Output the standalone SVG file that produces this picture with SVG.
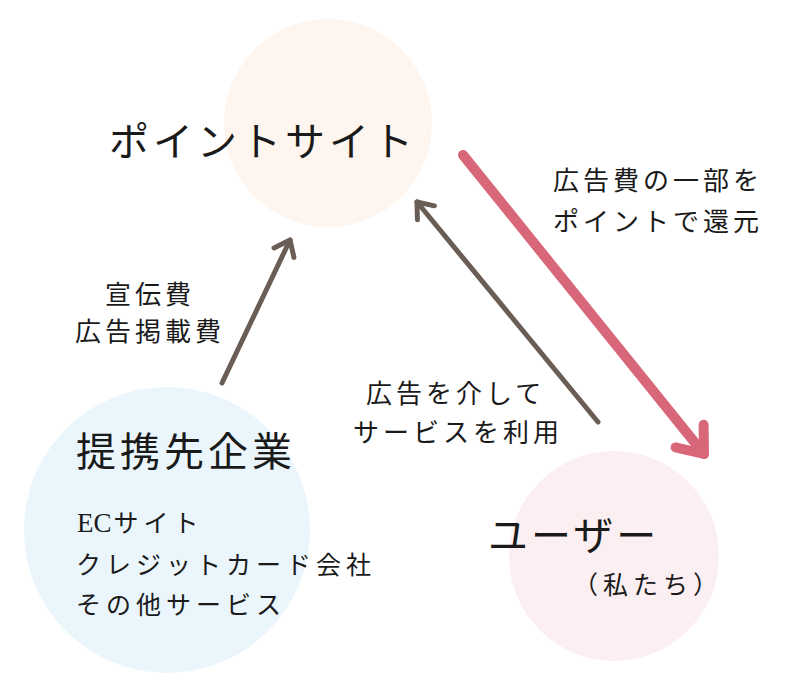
<svg xmlns="http://www.w3.org/2000/svg" width="800" height="696" viewBox="0 0 800 696">
  <style>
    text { font-family: "Liberation Serif", "Noto Sans CJK JP", serif; fill: #1a1a1a; }
    .big { font-size: 40px; letter-spacing: 4px; }
    .mid { font-size: 25px; letter-spacing: 5px; }
    .lbl { font-size: 26px; letter-spacing: 4px; }
    .brown { stroke: #6a5d55; stroke-width: 5; fill: none; stroke-linecap: round; stroke-linejoin: round; }
    .pink { stroke: #d8677a; stroke-width: 10; fill: none; stroke-linecap: round; stroke-linejoin: round; }
  </style>
  <defs>
    <marker id="headBrown" markerUnits="userSpaceOnUse" viewBox="-30 -20 40 40" markerWidth="40" markerHeight="40" refX="0" refY="0" orient="auto" overflow="visible">
      <path d="M-14,-11 L0,0 L-14,11" stroke="#6a5d55" stroke-width="5" fill="none" stroke-linecap="round" stroke-linejoin="round"/>
    </marker>
    <marker id="headPink" markerUnits="userSpaceOnUse" viewBox="-40 -30 60 60" markerWidth="60" markerHeight="60" refX="0" refY="0" orient="auto" overflow="visible">
      <path d="M-23,-18 L0,0 L-23,18" stroke="#d8677a" stroke-width="10" fill="none" stroke-linecap="round" stroke-linejoin="round"/>
    </marker>
  </defs>
  <rect width="800" height="696" fill="#ffffff"/>

  <g id="point-site">
    <circle cx="328" cy="123" r="104" fill="#fdf5ee"/>
    <text class="big" x="109" y="156">ポイントサイト</text>
  </g>

  <g id="partner">
    <circle cx="167" cy="530" r="143" fill="#eaf6fc"/>
    <text class="big" x="76" y="466">提携先企業</text>
    <text class="mid" x="77" y="532"><tspan style="letter-spacing:0px;font-size:27px">EC</tspan><tspan dx="2">サイト</tspan></text>
    <text class="mid" x="76" y="574">クレジットカード会社</text>
    <text class="mid" x="76" y="614">その他サービス</text>
  </g>

  <g id="user">
    <circle cx="614" cy="556" r="105" fill="#fbeff2"/>
    <text class="big" x="488" y="550" style="letter-spacing:3px">ユーザー</text>
    <text class="mid" x="573" y="594">（私たち）</text>
  </g>

  <g id="connectors">
    <line class="brown" x1="222" y1="383" x2="290" y2="240" marker-end="url(#headBrown)"/>
    <line class="brown" x1="598" y1="422" x2="417" y2="202" marker-end="url(#headBrown)"/>
    <line class="pink" x1="463" y1="155" x2="704" y2="454" marker-end="url(#headPink)"/>
  </g>

  <g id="labels">
    <text class="lbl" x="105" y="304">宣伝費</text>
    <text class="lbl" x="75" y="341">広告掲載費</text>
    <text class="lbl" x="553" y="190">広告費の一部を</text>
    <text class="lbl" x="553" y="231">ポイントで還元</text>
    <text class="lbl" x="366" y="403">広告を介して</text>
    <text class="lbl" x="353" y="442">サービスを利用</text>
  </g>
</svg>
